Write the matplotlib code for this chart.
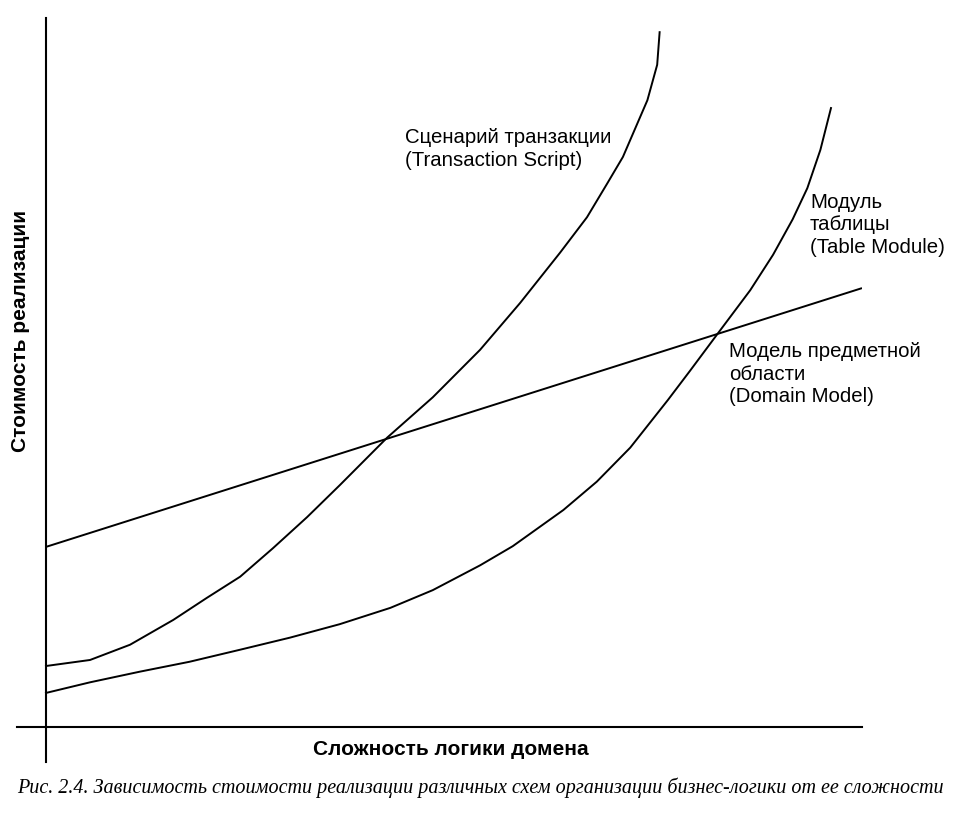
"""Рис. 2.4 — стоимость реализации схем бизнес-логики в зависимости от сложности."""
import matplotlib
matplotlib.use("Agg")
import matplotlib.pyplot as plt

BLACK = "#000000"
W, H = 960, 817

# complexity (x) / cost (y), both on a 0..100 scale
DM_X = [0.0, 100.0]
DM_Y = [25.4, 61.9]

TS_X = [0.0, 5.4, 10.3, 15.6, 19.7, 23.8, 27.8, 32.0, 36.0, 41.8, 47.4,
        53.2, 58.1, 63.0, 66.3, 68.8, 70.7, 73.7, 74.9, 75.2]
TS_Y = [8.6, 9.45, 11.6, 15.1, 18.2, 21.2, 25.2, 29.6, 34.1, 40.8, 46.5,
        53.2, 59.8, 66.9, 71.9, 76.7, 80.4, 88.4, 93.4, 98.0]

TM_X = [0.0, 5.4, 11.5, 17.6, 23.8, 29.9, 36.0, 42.2, 47.4, 53.2, 57.2,
        63.4, 67.5, 71.6, 76.2, 78.9, 82.2, 86.3, 89.1, 91.5, 93.3, 94.9,
        96.2]
TM_Y = [4.8, 6.3, 7.8, 9.2, 10.9, 12.6, 14.5, 16.8, 19.3, 22.8, 25.5,
        30.6, 34.6, 39.4, 46.1, 50.2, 55.3, 61.6, 66.6, 71.6, 76.0, 81.4,
        87.3]

LABELS = {
    "ts": ["Сценарий транзакции", "(Transaction Script)"],
    "tm": ["Модуль", "таблицы", "(Table Module)"],
    "dm": ["Модель предметной", "области", "(Domain Model)"],
}
XLABEL = "Сложность логики домена"
YLABEL = "Стоимость реализации"
CAPTION = ("Рис. 2.4. Зависимость стоимости реализации различных схем "
           "организации бизнес-логики от ее сложности")

SANS = "Liberation Sans"
SERIF = "Liberation Serif"


def fx(px):
    return px / W


def fy(py):
    return 1 - py / H


def build():
    fig = plt.figure(figsize=(W / 100, H / 100), dpi=100)
    # axes box spans the drawn axis lines (px 17..862 wide, 18..762 tall)
    ax = fig.add_axes([fx(17), fy(762), fx(862) - fx(17), fy(18) - fy(762)])
    ax.set_xlim(-3.55, 100)
    ax.set_ylim(-4.94, 100)

    for s in ("top", "right"):
        ax.spines[s].set_visible(False)
    for s in ("left", "bottom"):
        ax.spines[s].set_position(("data", 0))
        ax.spines[s].set_linewidth(1.5)
        ax.spines[s].set_color(BLACK)
    ax.set_xticks([])
    ax.set_yticks([])

    lw = 1.4
    ax.plot(DM_X, DM_Y, color=BLACK, lw=lw, solid_capstyle="butt")
    ax.plot(TS_X, TS_Y, color=BLACK, lw=lw, solid_joinstyle="round")
    ax.plot(TM_X, TM_Y, color=BLACK, lw=lw, solid_joinstyle="round")

    fs = 14.7
    for key, x0, y0 in [("ts", 405, 143), ("tm", 810, 208), ("dm", 729, 357)]:
        for i, line in enumerate(LABELS[key]):
            fig.text(fx(x0), fy(y0 + i * 22.5), line, fontsize=fs,
                     family=SANS, color=BLACK, ha="left", va="baseline")

    fig.text(fx(451), fy(755), XLABEL, fontsize=15, family=SANS,
             weight="bold", color=BLACK, ha="center", va="baseline")
    fig.text(fx(21), fy(331), YLABEL, fontsize=15, family=SANS,
             weight="bold", color=BLACK, ha="center", va="center",
             rotation=90)
    fig.text(fx(480), fy(793), CAPTION, fontsize=14.5, family=SERIF,
             style="italic", color=BLACK, ha="center", va="baseline")

    fig.savefig("out.png", dpi=100, facecolor="white")
    plt.close(fig)


if __name__ == "__main__":
    build()
